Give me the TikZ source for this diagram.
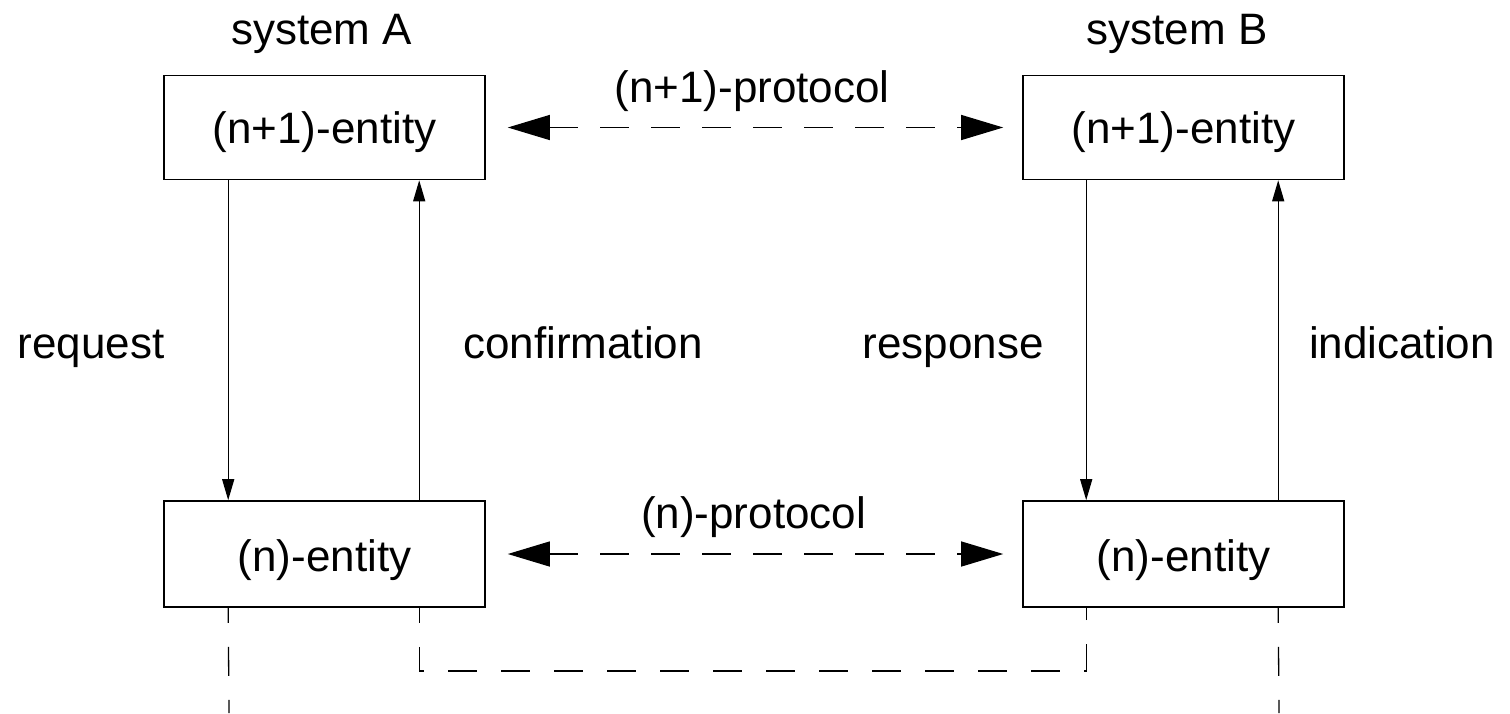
\documentclass[tikz,border=0pt]{standalone}
\usepackage{fontspec}
\setmainfont{Liberation Sans}
\usetikzlibrary{arrows.meta,calc}
\newcommand{\ent}[2]{\raisebox{-#1}[0pt][0pt]{#2}}
\begin{document}
\begin{tikzpicture}[x=1pt,y=-1pt,
  every node/.style={font=\fontsize{44}{52}\selectfont, inner sep=0pt},
  entbox/.style={draw, line width=1.6pt, minimum width=321pt, minimum height=104pt},
  txt/.style={anchor=base},
  sarrow/.style={line width=1.3pt, -{Triangle[length=21pt,width=12pt]}},
  parrow/.style={line width=1.3pt, dash pattern=on 29pt off 22pt,
     {Triangle[length=42pt,width=25pt]}-{Triangle[length=42pt,width=25pt]},
     shorten <=22pt, shorten >=19pt},
  dline/.style={line width=1.3pt, dash pattern=on 29pt off 24pt}]
\useasboundingbox (0,0) rectangle (1510,713);
\fill[white] (0,0) rectangle (1510,713);
% boxes
\node[entbox] (A1) at (324.5,127.5) {\ent{16pt}{(n+1)-entity}};
\node[entbox, minimum height=106pt] (A0) at (324.5,554) {\ent{17pt}{(n)-entity}};
\node[entbox] (B1) at (1183.5,127.5) {\ent{16pt}{(n+1)-entity}};
\node[entbox, minimum height=106pt] (B0) at (1183.5,554) {\ent{17pt}{(n)-entity}};
% titles
\node[txt] (sA) at (321.5,44) {system A};
\node[txt] (sB) at (1177,44) {system B};
% protocols
\draw[parrow] (A1.east) -- (B1.west);
\draw[parrow] (A0.east) -- (B0.west);
\node[txt] (p1) at (752,102) {(n+1)-protocol};
\node[txt] (p0) at (753.5,528) {(n)-protocol};
% service primitives
\draw[sarrow] ([xshift=65pt]A1.south west) -- ([xshift=65pt]A0.north west);
\draw[sarrow] ([xshift=256pt]A0.north west) -- ([xshift=256pt]A1.south west);
\draw[sarrow] ([xshift=64pt]B1.south west) -- ([xshift=64pt]B0.north west);
\draw[sarrow] ([xshift=256pt]B0.north west) -- ([xshift=256pt]B1.south west);
\node[txt] (req) at (91,358) {request};
\node[txt] (conf) at (583,358) {confirmation};
\node[txt] (resp) at (953,358) {response};
\node[txt] (ind) at (1402,358) {indication};
% lower dashed lines
\coordinate (endA) at (229,713);
\coordinate (endB) at (1279,713);
\coordinate (lowy) at (0,671);
\draw[dline, dash phase=14pt] ([xshift=65pt]A0.south west) -- (endA);
\draw[dline, dash phase=14pt] ([xshift=256pt]B0.south west) -- (endB);
\draw[dline, dash phase=14pt] ([xshift=256pt]A0.south west) coordinate (ca)
   -- (ca |- lowy) -| ([xshift=64pt]B0.south west);
\end{tikzpicture}
\end{document}
